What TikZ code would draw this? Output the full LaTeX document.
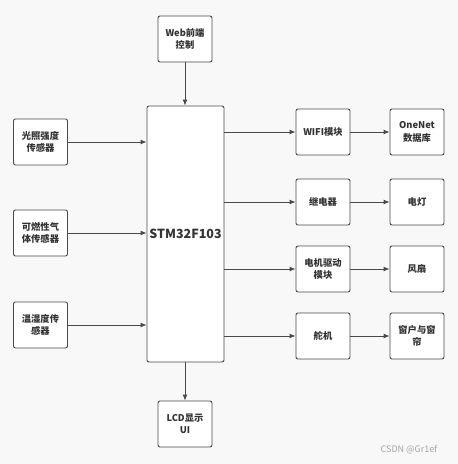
\documentclass[tikz,border=0pt]{standalone}
\usepackage{fontspec}
\setmainfont{Noto Sans CJK SC}
\usetikzlibrary{arrows.meta, positioning}
\definecolor{bgcol}{HTML}{F8F8F8}
\definecolor{boxline}{HTML}{4A4A4A}
\definecolor{txtcol}{HTML}{333333}

\begin{document}
\begin{tikzpicture}[
  x=1pt, y=-1pt,
  blk/.style={rectangle,rounded corners=2pt,fill=white,draw=boxline,line width=0.9pt,
    text=txtcol,font=\fontsize{9.3}{12.5}\selectfont\bfseries,align=center,
    minimum width=54pt,minimum height=46pt,inner sep=1pt},
  mcu/.style={blk,minimum width=77pt,minimum height=256pt,font=\fontsize{12.5}{14}\selectfont\bfseries},
  msg/.style={-{Latex[length=6pt,width=5pt]},line width=0.9pt,draw=boxline}
]
  \fill[bgcol] (0,0) rectangle (458,464);
  \useasboundingbox (0,0) rectangle (458,464);

  \node[mcu](stm) at (185.5,234) {STM32F103};
  \node[blk](web) at (185,39)  {Web前端\\控制};
  \node[blk](lcd) at (185,424) {LCD显示\\UI};
  % inputs
  \node[blk](light) at (40.5,142) {光照强度\\传感器};
  \node[blk](gas)   at (40.5,233) {可燃性气\\体传感器};
  \node[blk](hum)   at (40.5,325) {温湿度传\\感器};
  % outputs
  \node[blk](wifi)  at (323,132) {WIFI模块};
  \node[blk](relay) at (323,202) {继电器};
  \node[blk](motor) at (323,269) {电机驱动\\模块};
  \node[blk](servo) at (323,336) {舵机};
  \node[blk](cloud) at (417,132) {OneNet\\数据库};
  \node[blk](lamp)  at (417,202) {电灯};
  \node[blk](fan)   at (417,269) {风扇};
  \node[blk](win)   at (417,336) {窗户与窗\\帘};

  \draw[msg](web)--(web |- stm.north);
  \draw[msg](stm.south -| lcd)--(lcd);
  \draw[msg](light)--(light -| stm.west);
  \draw[msg](gas)--(gas -| stm.west);
  \draw[msg](hum)--(hum -| stm.west);
  \draw[msg](stm.east |- wifi)--(wifi);
  \draw[msg](stm.east |- relay)--(relay);
  \draw[msg](stm.east |- motor)--(motor);
  \draw[msg](stm.east |- servo)--(servo);
  \draw[msg](wifi)--(cloud);
  \draw[msg](relay)--(lamp);
  \draw[msg](motor)--(fan);
  \draw[msg](servo)--(win);

  \node[font=\fontsize{9}{10}\selectfont,text=gray!70](mark) at (409,450) {CSDN @Gr1ef};
\end{tikzpicture}
\end{document}
